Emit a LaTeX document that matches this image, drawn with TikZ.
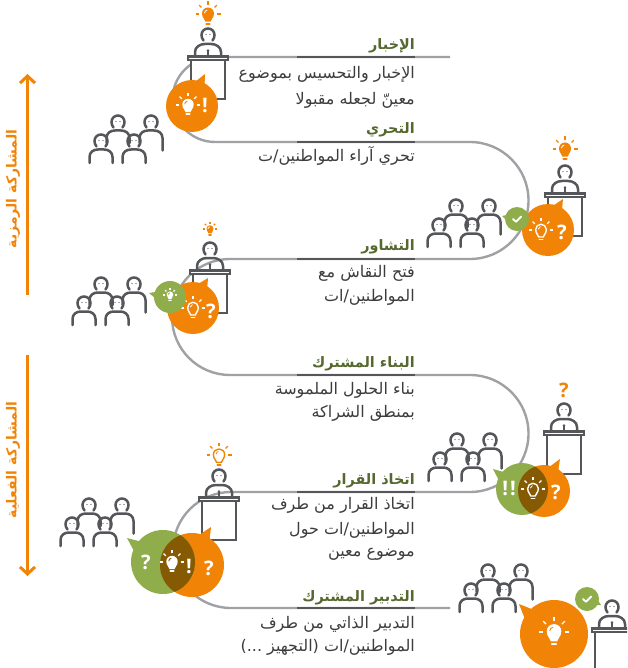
\documentclass[tikz,border=0pt]{standalone}
\usepackage{fontspec}
\usetikzlibrary{calc,arrows.meta}
\TeXXeTstate=1
\newfontfamily\arabicfont[Script=Arabic]{DejaVu Sans}
\newfontfamily\markfont{Open Sans}
\definecolor{brandorange}{HTML}{F18407}
\definecolor{brandgreen}{HTML}{90AD4C}
\definecolor{overlapbrown}{HTML}{855A02}
\definecolor{inkgrey}{HTML}{54565A}
\definecolor{routegrey}{HTML}{A0A1A5}
\definecolor{headgreen}{HTML}{56682F}
\definecolor{bodytext}{HTML}{3C3C3C}
\newcommand\bubble[6]{%
  \pgfmathsetmacro\tailang{atan2(#6-#2,#5-#1)}%
  \fill[#4] (#1,#2) circle[radius=#3];
  \fill[#4] ($(#1,#2)+(\tailang-13:#3*0.97)$) -- (#5,#6) -- ($(#1,#2)+(\tailang+8:#3*0.97)$) -- cycle;
}
\newcommand\overlap[6]{%
  \begin{scope}\clip (#1,#2) circle[radius=#3];
  \fill[overlapbrown] (#4,#5) circle[radius=#6];\end{scope}
}
\newcommand\oneperson[4]{%
  \begin{scope}[shift={(#1,#2)}]
  \draw[icon] (-4.5,5.5) .. controls (-6,3.5) and (-6.5,2) .. (-6.5,0) .. controls (-6.5,-3.6) and (-3.6,-6.5) .. (0,-6.5) .. controls (3.6,-6.5) and (6.5,-3.6) .. (6.5,0) .. controls (6.5,2) and (6,3.5) .. (4.5,5.5);
  \fill[inkgrey] (-2,-0.5) circle[radius=.6] (2,-0.5) circle[radius=.6];
  \draw[icon] (-11.5,#3) -- (-11.5,16) .. controls (-11.5,11) and (-7.5,8.5) .. (-3,8.5) -- (3,8.5) .. controls (7.5,8.5) and (11.5,11) .. (11.5,16) -- (11.5,#4);
  \end{scope}
}
\tikzset{
  x=1pt,y=-1pt,
  icon/.style={draw=inkgrey,line width=2.5pt,line cap=round,fill=none},
  route/.style={draw=routegrey,line width=2.4pt},
  rule/.style={draw=inkgrey,line width=2.6pt},
  heading/.style={anchor=east,inner sep=0pt,yshift=-2pt,text=headgreen,font=\arabicfont\bfseries\fontsize{14.4}{16}\selectfont},
  bodyline/.style={anchor=east,inner sep=0pt,yshift=-2pt,text=bodytext,font=\arabicfont\fontsize{16}{18}\selectfont},
  signmark/.style={inner sep=0pt,text=white,font=\markfont\bfseries\fontsize{20}{22}\selectfont},
  sidelabel/.style={inner sep=0pt,rotate=90,text=brandorange,font=\arabicfont\bfseries\fontsize{14}{16}\selectfont},
  sidearrow/.style={draw=brandorange,line width=3pt,-{Straight Barb[length=7pt,width=15pt]}},
  pics/crowd/.style={code={
    \oneperson{29}{7}{21}{21}
    \oneperson{62}{7}{21}{28.5}
    \oneperson{12}{26}{22}{22}
    \oneperson{45}{26}{22}{22}
  }},
  pics/lectern/.style={code={
    \draw[icon] (-4.5,5.5) .. controls (-6,3.5) and (-6.5,2) .. (-6.5,0) .. controls (-6.5,-3.6) and (-3.6,-6.5) .. (0,-6.5) .. controls (3.6,-6.5) and (6.5,-3.6) .. (6.5,0) .. controls (6.5,2) and (6,3.5) .. (4.5,5.5);
    \fill[inkgrey] (-2,-0.5) circle[radius=.6] (2,-0.5) circle[radius=.6];
    \draw[icon] (-13,20) -- (-13,17) .. controls (-13,12) and (-8,9) .. (-3,9) -- (3,9) .. controls (8,9) and (13,12) .. (13,17) -- (13,20);
    \fill[white] (-17,24) rectangle (17,64);
    \draw[icon,line width=2.1pt,line cap=butt,line join=miter] (-17,24) -- (-17,64) -- (17,64) -- (17,24);
    \draw[inkgrey,line width=1.2pt] (0,15) -- (0,20);
    \fill[inkgrey] (0,15.5) circle[radius=1.4];
    \draw[icon,line width=2.1pt,fill=white,line cap=butt] (-20,21.5) rectangle (20,25);
  }},
  pics/bulbsolid/.style 2 args={code={
    \fill[#1] (-2.6,7.6) .. controls (-3,4.5) and (-6,4) .. (-6,-0.5) .. controls (-6,-4) and (-3.3,-6.5) .. (0,-6.5) .. controls (3.3,-6.5) and (6,-4) .. (6,-0.5) .. controls (6,4) and (3,4.5) .. (2.6,7.6) -- cycle;
    \draw[#1,line width=1.7pt,line cap=round] (-1.8,9.8) -- (1.8,9.8);
    \draw[#2,line width=.9pt,line cap=round] (-3.4,-1) .. controls (-3.2,-2.6) and (-2.2,-3.6) .. (-1,-3.8);
    \foreach \a in {180,-135,-90,-45,0}{\draw[#1,line width=1.3pt] (\a:9.2) -- (\a:12.5);}
  }},
  pics/bulbline/.style={code={
    \draw[#1,line width=1.4pt,line join=round] (-2.4,7.4) .. controls (-2.8,4.5) and (-5.6,4) .. (-5.6,-0.5) .. controls (-5.6,-3.8) and (-3.1,-6) .. (0,-6) .. controls (3.1,-6) and (5.6,-3.8) .. (5.6,-0.5) .. controls (5.6,4) and (2.8,4.5) .. (2.4,7.4) -- cycle;
    \draw[#1,line width=1.5pt,line cap=round] (-1.8,9.8) -- (1.8,9.8);
    \draw[#1,line width=.8pt,line cap=round] (-2.8,-1) .. controls (-2.6,-2.4) and (-1.8,-3.2) .. (-.8,-3.4);
    \foreach \a in {180,-135,-90,-45,0}{\draw[#1,line width=1.2pt] (\a:9.2) -- (\a:12.5);}
  }},
  pics/tick/.style={code={
    \draw[white,line width=1.9pt,line cap=round,line join=round] (-4,0) -- (-1,2.8) -- (4.2,-2.4);
  }},
}
\begin{document}
\begin{tikzpicture}
\useasboundingbox (0,0) rectangle (627,668);
\clip (0,0) rectangle (627,668);
% route coordinates
\coordinate (r1s) at (450,57);
\coordinate (r1a) at (172.5,57);
\coordinate (r1b) at (172.5,142);
\coordinate (r2a) at (528.5,142);
\coordinate (r2b) at (528.5,259);
\coordinate (r3a) at (172,259);
\coordinate (r3b) at (172,375);
\coordinate (r4a) at (528.5,375);
\coordinate (r4b) at (528.5,492);
\coordinate (r5a) at (173,492);
\coordinate (r5b) at (173,608);
\coordinate (r5e) at (450,608);
\draw[route,rounded corners=42.5pt] (r1s) -- (r1a) -- (r1b) -- (330,142);
\draw[route,rounded corners=58.5pt] (330,142) -- (r2a) -- (r2b) -- (330,259);
\draw[route,rounded corners=58pt] (330,259) -- (r3a) -- (r3b) -- (330,375);
\draw[route,rounded corners=58.5pt] (330,375) -- (r4a) -- (r4b) -- (330,492);
\draw[route,rounded corners=58pt] (330,492) -- (r5a) -- (r5b) -- (r5e);
\foreach \y in {57,142,259,375,492,608}{\draw[rule] (297,\y) -- (415,\y);}
% side arrows
\coordinate (a1s) at (27.5,295); \coordinate (a1e) at (27.5,74);
\coordinate (a2s) at (27.5,355); \coordinate (a2e) at (27.5,576);
\draw[sidearrow] (a1s) -- (a1e);
\draw[sidearrow] (a2s) -- (a2e);
\node[sidelabel] (s1) at (13,189) {\beginR المشاركة الرمزية\endR};
\node[sidelabel] (s2) at (13,460) {\beginR المشاركة الفعلية\endR};
% texts
\node[heading] (h1) at (415,44) {\beginR الإخبار\endR};
\node[bodyline] (t1a) at (415,72) {\beginR الإخبار والتحسيس بموضوع\endR};
\node[bodyline] (t1b) at (415,98) {\beginR معينّ لجعله مقبولا\endR};
\node[heading] (h2) at (415,128) {\beginR التحري\endR};
\node[bodyline] (t2a) at (415,154) {\beginR تحري آراء المواطنين/ت\endR};
\node[heading] (h3) at (415,245) {\beginR التشاور\endR};
\node[bodyline] (t3a) at (415,271) {\beginR فتح النقاش مع\endR};
\node[bodyline] (t3b) at (415,295) {\beginR المواطنين/ات\endR};
\node[heading] (h4) at (415,362) {\beginR البناء المشترك\endR};
\node[bodyline] (t4a) at (415,388) {\beginR بناء الحلول الملموسة\endR};
\node[bodyline] (t4b) at (415,411) {\beginR بمنطق الشراكة\endR};
\node[heading] (h5) at (415,479) {\beginR اتخاذ القرار\endR};
\node[bodyline] (t5a) at (415,503) {\beginR اتخاذ القرار من طرف\endR};
\node[bodyline] (t5b) at (415,528) {\beginR المواطنين/ات حول\endR};
\node[bodyline] (t5c) at (415,552) {\beginR موضوع معين\endR};
\node[heading] (h6) at (415,596) {\beginR التدبير المشترك\endR};
\node[bodyline] (t6a) at (415,622) {\beginR التدبير الذاتي من طرف\endR};
\node[bodyline] (t6b) at (415,645) {\beginR المواطنين/ات (التجهيز ...)\endR};
% crowds
\pic at (89,115) {crowd};
\pic at (427,199) {crowd};
\pic at (72,277) {crowd};
\pic at (428,433) {crowd};
\pic at (60,498) {crowd};
\pic at (459,564) {crowd};
% lecterns
\pic at (208,35) {lectern};
\pic at (565,172) {lectern};
\pic at (210,249) {lectern};
\pic at (564,410) {lectern};
\pic at (219,476) {lectern};
\pic at (612,607) {lectern};
% top icons
\pic at (208,14) {bulbsolid={brandorange}{white}};
\pic at (565,149) {bulbsolid={brandorange}{white}};
\pic[scale=.58] at (210,229) {bulbsolid={brandorange}{white}};
\node[signmark,text=brandorange] (q4) at (564,390) {?};
\pic at (219,455) {bulbline=brandorange};
% bubble 1
\bubble{192}{106}{26}{brandorange}{205}{74}
\pic[scale=.95] at (188,105) {bulbsolid={white}{brandorange}};
\node[signmark] (m1) at (205,105) {!};
% bubble 2
\bubble{548}{230}{26}{brandorange}{563}{199}
\pic[scale=.95] at (541,230) {bulbline=white};
\node[signmark] (m2) at (562,232) {?};
\bubble{517}{219}{12}{brandgreen}{502}{216}
\pic at (517,219) {tick};
% bubble 3
\bubble{193}{308}{26}{brandorange}{208}{278}
\pic[scale=.95] at (193,308) {bulbline=white};
\node[signmark] (m3) at (211,311) {?};
\bubble{170}{297}{16}{brandgreen}{149}{293}
\pic[scale=.55] at (170,295) {bulbsolid={white}{brandgreen}};
% bubble 4
\bubble{544}{491}{26}{brandorange}{560}{459}
\bubble{522}{489}{26}{brandgreen}{493}{469}
\overlap{522}{489}{26}{544}{491}{26}
\pic[scale=.95] at (533,489) {bulbline=white};
\node[signmark] (m4a) at (509,488) {!\kern2pt!};
\node[signmark] (m4b) at (556,492) {?};
% bubble 5
\bubble{192}{565}{32}{brandorange}{211}{527}
\bubble{163}{562}{32}{brandgreen}{127}{538}
\overlap{163}{562}{32}{192}{565}{32}
\pic[scale=.95] at (172,562) {bulbsolid={white}{overlapbrown}};
\node[signmark] (m5a) at (189,566) {!};
\node[signmark] (m5b) at (146,562) {?};
\node[signmark] (m5c) at (209,568) {?};
% bubble 6
\bubble{554}{634}{34}{brandorange}{519}{604}
\pic[scale=1.22] at (554,632) {bulbsolid={white}{brandorange}};
\bubble{587}{599}{12}{brandgreen}{601}{605}
\pic at (587,599) {tick};
\end{tikzpicture}
\end{document}
